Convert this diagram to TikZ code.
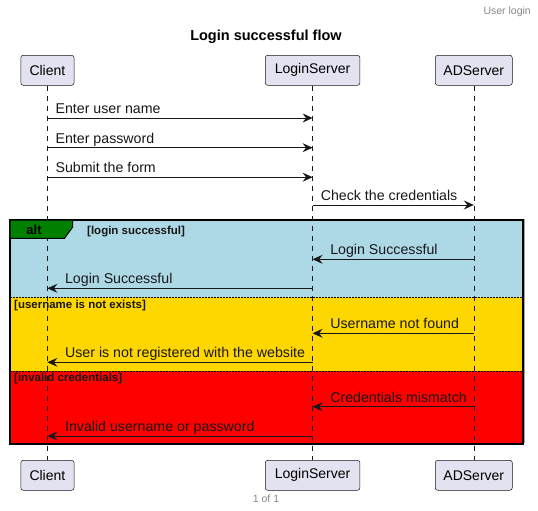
\documentclass[tikz,border=0pt]{standalone}
\usepackage{fontspec}
\setmainfont{Liberation Sans}
\usetikzlibrary{arrows.meta,calc}
\definecolor{partfill}{HTML}{E2E2F0}
\definecolor{partborder}{HTML}{181818}
\definecolor{ink}{HTML}{181818}
\definecolor{altblue}{HTML}{ADD8E6}
\definecolor{altyellow}{HTML}{FFD700}
\definecolor{altred}{HTML}{FF0000}
\definecolor{altgreen}{HTML}{008000}
\definecolor{greytext}{HTML}{888888}
\begin{document}
\begin{tikzpicture}[x=1pt,y=-1pt,
  part/.style={draw=partborder, fill=partfill, rounded corners=2.5pt, line width=0.5pt,
    minimum height=30pt, inner sep=0pt, font=\fontsize{14}{16}\selectfont},
  lifeline/.style={draw=ink, line width=0.5pt, dash pattern=on 5pt off 5pt},
  msg/.style={draw=ink, line width=0.9pt, -{Stealth[length=10pt,width=9pt,inset=3.5pt]}},
  msglabel/.style={anchor=base west, inner sep=0pt, font=\fontsize{14.2}{16}\selectfont, text=ink},
  guard/.style={anchor=base west, inner sep=0pt, font=\bfseries\fontsize{11.5}{13}\selectfont, text=ink},
  sep/.style={draw=black, line width=0.6pt, dash pattern=on 1.5pt off 1.5pt},
  smallgrey/.style={inner sep=0pt, font=\fontsize{10.5}{12}\selectfont, text=greytext}]
\useasboundingbox (0,0) rectangle (538,511);

% header, title, footer
\node[smallgrey, anchor=base east] (hdr) at (531,15) {User login};
\node[inner sep=0pt, anchor=base, font=\bfseries\fontsize{14.5}{17}\selectfont] (title) at (266,41) {Login successful flow};
\node[smallgrey, anchor=base] (ftr) at (266,502) {1 of 1};

% participants
\node[part, minimum width=53.3pt] (c1) at (47.4,70.3) {Client};
\node[part, minimum width=94.7pt] (l1) at (312.6,70.3) {LoginServer};
\node[part, minimum width=77pt] (a1) at (473.8,70.3) {ADServer};
\node[part, minimum width=53.3pt] (c2) at (47.4,475.3) {Client};
\node[part, minimum width=94.7pt] (l2) at (312.6,475.3) {LoginServer};
\node[part, minimum width=77pt] (a2) at (473.8,475.3) {ADServer};

% alt frame background
\coordinate (ftl) at (10,220);
\coordinate (fbr) at (523,444);
\coordinate (s1) at (10,297.3);
\coordinate (s2) at (10,371);
\fill[altblue] (ftl) rectangle (fbr |- s1);
\fill[altyellow] (s1) rectangle (fbr |- s2);
\fill[altred] (s2) rectangle (fbr);

% lifelines
\draw[lifeline] (c1.south) -- (c2.north);
\draw[lifeline] (l1.south) -- (l2.north);
\draw[lifeline] (a1.south) -- (a2.north);

% separators and frame
\draw[sep] (s1) -- (fbr |- s1);
\draw[sep] (s2) -- (fbr |- s2);
\draw[black!35, line width=1pt] (11,219) -- (524,219) -- (524,443);
\draw[black, line width=1.5pt] (ftl) rectangle (fbr);
\draw[black, line width=1pt, fill=altgreen] (10,220) -- (72.7,220) -- (72.7,227) -- (64.5,238.3) -- (10,238.3) -- cycle;
\node[inner sep=0pt, font=\bfseries\fontsize{13}{15}\selectfont, anchor=base] (alt) at (34,234) {alt};
\node[guard] (g1) at (87,234) {[login successful]};
\node[guard] (g2) at (14,308.3) {[username is not exists]};
\node[guard] (g3) at (14,381.7) {[invalid credentials]};

% messages
\foreach \n/\y in {1/118,2/147.7,3/177.2,4/205,5/259.3,6/288.3,7/333.3,8/362.3,9/406.7,10/436}
  \coordinate (y\n) at (0,\y);

\draw[msg] (c1 |- y1) -- (l1 |- y1);
\node[msglabel] (m1) at ($(c1 |- y1)+(8,-4.5)$) {Enter user name};
\draw[msg] (c1 |- y2) -- (l1 |- y2);
\node[msglabel] (m2) at ($(c1 |- y2)+(8,-4.5)$) {Enter password};
\draw[msg] (c1 |- y3) -- (l1 |- y3);
\node[msglabel] (m3) at ($(c1 |- y3)+(8,-4.5)$) {Submit the form};
\draw[msg] (l1 |- y4) -- (a1 |- y4);
\node[msglabel] (m4) at ($(l1 |- y4)+(8,-4.5)$) {Check the credentials};

\draw[msg] (a1 |- y5) -- (l1 |- y5);
\node[msglabel] (m5) at ($(l1 |- y5)+(17.5,-4.5)$) {Login Successful};
\draw[msg] (l1 |- y6) -- (c1 |- y6);
\node[msglabel] (m6) at ($(c1 |- y6)+(17.5,-4.5)$) {Login Successful};

\draw[msg] (a1 |- y7) -- (l1 |- y7);
\node[msglabel] (m7) at ($(l1 |- y7)+(17.5,-4.5)$) {Username not found};
\draw[msg] (l1 |- y8) -- (c1 |- y8);
\node[msglabel] (m8) at ($(c1 |- y8)+(17.5,-4.5)$) {User is not registered with the website};

\draw[msg] (a1 |- y9) -- (l1 |- y9);
\node[msglabel] (m9) at ($(l1 |- y9)+(17.5,-4.5)$) {Credentials mismatch};
\draw[msg] (l1 |- y10) -- (c1 |- y10);
\node[msglabel] (m10) at ($(c1 |- y10)+(17.5,-4.5)$) {Invalid username or password};
\end{tikzpicture}
\end{document}
